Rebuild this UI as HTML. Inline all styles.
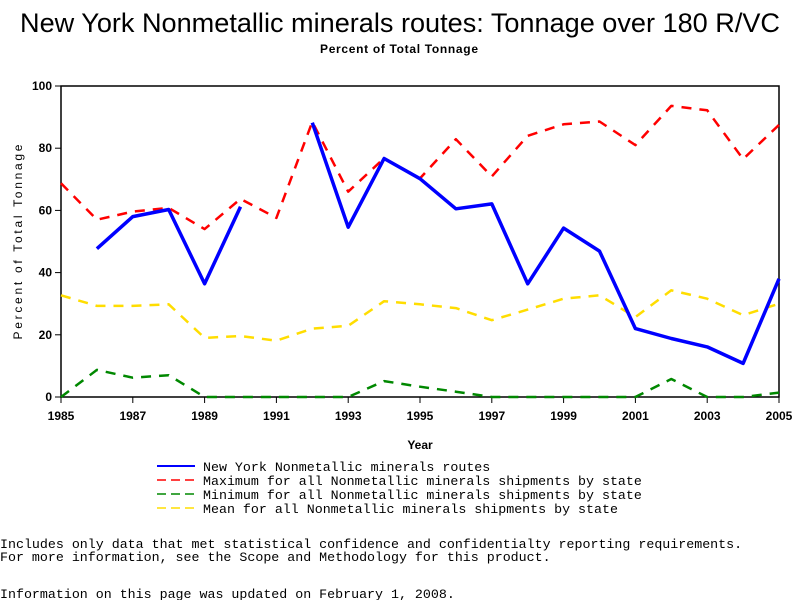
<!DOCTYPE html>
<html><head><meta charset="utf-8"><style>
body{margin:0;background:#fff;width:800px;height:600px;overflow:hidden}
svg text{font-family:"Liberation Sans",sans-serif}
.mono{font-family:"Liberation Mono",monospace;font-size:13.3px}
</style></head><body>
<svg width="800" height="600" id="c">
<text x="400" y="32" text-anchor="middle" font-size="27" textLength="760" lengthAdjust="spacingAndGlyphs">New York Nonmetallic minerals routes: Tonnage over 180 R/VC</text>
<text x="399" y="53" text-anchor="middle" font-size="12" font-weight="bold" textLength="158" lengthAdjust="spacing">Percent of Total Tonnage</text>
<rect x="61" y="86" width="718" height="311" fill="none" stroke="#000" stroke-width="1.5"/>
<g id="axes"></g>
<g id="series"></g>
<text x="420" y="449" text-anchor="middle" font-size="12" font-weight="bold">Year</text>
<text transform="translate(22,242) rotate(-90)" text-anchor="middle" font-family="Liberation Mono" font-size="12" textLength="195" lengthAdjust="spacing">Percent of Total Tonnage</text>
<g>
<line x1="157" y1="466" x2="195" y2="466" stroke="#00f" stroke-width="2"/>
<text x="203" y="471" class="mono">New York Nonmetallic minerals routes</text>
<line x1="157" y1="480" x2="195" y2="480" stroke="#f00" stroke-width="1.5" stroke-dasharray="9,5"/>
<text x="203" y="485" class="mono">Maximum for all Nonmetallic minerals shipments by state</text>
<line x1="157" y1="494" x2="195" y2="494" stroke="#080" stroke-width="1.5" stroke-dasharray="9,5"/>
<text x="203" y="499" class="mono">Minimum for all Nonmetallic minerals shipments by state</text>
<line x1="157" y1="508" x2="195" y2="508" stroke="#fd0" stroke-width="1.5" stroke-dasharray="9,5"/>
<text x="203" y="513" class="mono">Mean for all Nonmetallic minerals shipments by state</text>
</g>
<text x="0" y="548" class="mono">Includes only data that met statistical confidence and confidentialty reporting requirements.</text>
<text x="0" y="561" class="mono">For more information, see the Scope and Methodology for this product.</text>
<text x="0" y="598" class="mono">Information on this page was updated on February 1, 2008.</text>
</svg>
<script>
const years=[1985,1986,1987,1988,1989,1990,1991,1992,1993,1994,1995,1996,1997,1998,1999,2000,2001,2002,2003,2004,2005];
const nyValues=[null,47.7,58,60.3,36.4,61.2,null,88.2,54.6,76.7,70.2,60.5,62.1,36.4,54.3,46.9,22,18.8,16.1,10.8,38];
const maxValues=[68.7,57,59.6,60.8,54,63.7,57.6,88.5,66,76.8,70.3,82.9,70.9,84,87.7,88.6,81,93.6,92.2,76.5,87.5];
const minValues=[0,8.7,6.2,7,0,0,0,0,0,5.1,3.3,1.7,0,0,0,0,0,5.8,0,0,1.4];
const meanValues=[32.7,29.3,29.3,29.8,19,19.6,18.1,22,22.9,30.8,29.8,28.6,24.7,28.1,31.6,32.7,25.7,34.3,31.6,26.3,30];
const yTicks=[0,20,40,60,80,100];
const xTickLabels=[1985,1987,1989,1991,1993,1995,1997,1999,2001,2003,2005];
const NS='http://www.w3.org/2000/svg';
const X=y=>61+(y-1985)*718/20;
const Y=v=>397-v*3.11;
function mk(t,a,p){const e=document.createElementNS(NS,t);for(const k in a)e.setAttribute(k,a[k]);p.appendChild(e);return e;}
const ax=document.getElementById('axes');
yTicks.forEach(v=>{
 const l=mk('line',{x1:55,x2:61,y1:Y(v),y2:Y(v),stroke:'#000'},ax);
 
 
 const t=mk('text',{x:52,y:Y(v)+4,'text-anchor':'end','font-size':12,'font-weight':'bold'},ax);t.textContent=v;
 
 
});
xTickLabels.forEach(y=>{
 const l=mk('line',{x1:X(y),x2:X(y),y1:397,y2:403,stroke:'#000'},ax);
 
 
 const t=mk('text',{x:X(y),y:420,'text-anchor':'middle','font-size':12,'font-weight':'bold'},ax);t.textContent=y;
 
 
});
const sg=document.getElementById('series');
function draw(vals,color,w,dash,name){
 let d='',pen=false;
 vals.forEach((v,i)=>{if(v===null){pen=false;return;}d+=(pen?'L':'M')+X(years[i]).toFixed(1)+','+Y(v).toFixed(1);pen=true;});
 const p=mk('path',{d:d,fill:'none',stroke:color,'stroke-width':w,'stroke-linejoin':'round'},sg);
 if(dash)p.setAttribute('stroke-dasharray',dash);
 
 
}
draw(meanValues,'#fd0',2.5,'10,8','mean-line');
draw(minValues,'#080',2.5,'10,8','min-line');
draw(maxValues,'#f00',2.5,'10,8','max-line');
draw(nyValues,'#00f',3.5,null,'ny-line');
</script>
</body></html>
